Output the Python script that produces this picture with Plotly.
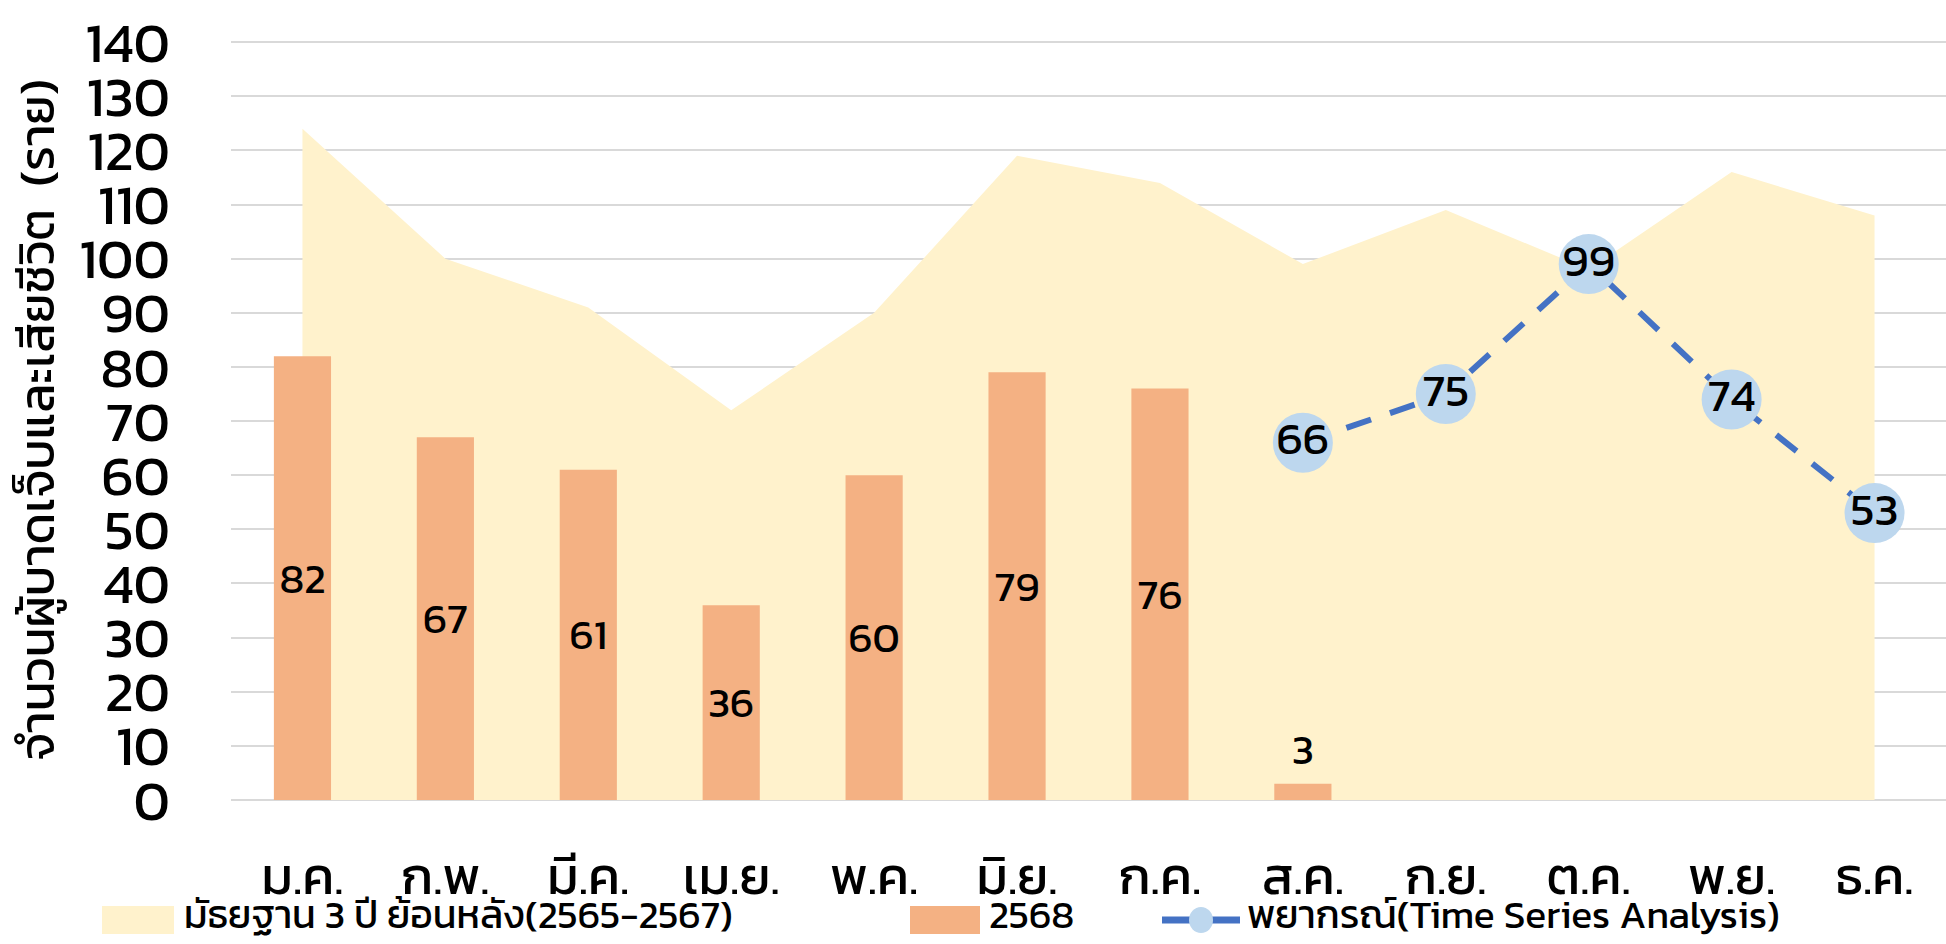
import plotly.graph_objects as go

# Months (Thai abbreviations)
months = ["ม.ค.", "ก.พ.", "มี.ค.", "เม.ย.", "พ.ค.", "มิ.ย.",
          "ก.ค.", "ส.ค.", "ก.ย.", "ต.ค.", "พ.ย.", "ธ.ค."]

# Median of the previous 3 years (2565-2567)
median_3yr = [124, 100, 91, 72, 90, 119, 114, 99, 109, 98, 116, 108]

# Year 2568 actual counts (Jan-Aug)
actual_2568 = [82, 67, 61, 36, 60, 79, 76, 3]

# Forecast (time series analysis), Aug-Dec
forecast_months = ["ส.ค.", "ก.ย.", "ต.ค.", "พ.ย.", "ธ.ค."]
forecast_vals = [66, 75, 99, 74, 53]

y_ticks = list(range(0, 141, 10))
Y_RANGE = [0, 140.4]

NAME_MEDIAN = "มัธยฐาน 3 ปี ย้อนหลัง(2565-2567)"
NAME_2568 = "2568"
NAME_FORECAST = "พยากรณ์(Time Series Analysis)"

C_AREA = "#FFF2CC"
C_BAR = "#F4B183"
C_LINE = "#4472C4"
C_MARK = "#BDD7EE"

FONT = "Kanit, Prompt, 'Noto Sans Thai', 'Noto Sans', sans-serif"

W, H = 1946, 944
ML, MR, MT, MB = 231, 0, 40, 144
PW, PH = W - ML - MR, H - MT - MB


def px_x(px):
    return (px - ML) / PW


def px_y(py):
    return (H - MB - py) / PH


fig = go.Figure()

# Background area (base subplot, drawn first)
fig.add_trace(go.Scatter(
    x=months, y=median_3yr,
    name=NAME_MEDIAN,
    mode="lines", fill="tozeroy",
    line=dict(width=0, color=C_AREA),
    fillcolor=C_AREA,
    hoverinfo="skip",
    xaxis="x", yaxis="y",
))

# Bars and forecast line live on an overlaying y-axis so they sit above the area
bar_pos = ["inside" if v >= 10 else "outside" for v in actual_2568]
fig.add_trace(go.Bar(
    x=months[:len(actual_2568)], y=actual_2568,
    name=NAME_2568,
    marker=dict(color=C_BAR, line=dict(width=0)),
    width=0.4,
    text=[str(v) for v in actual_2568],
    textposition=bar_pos,
    insidetextanchor="middle",
    textangle=0,
    textfont=dict(size=42, color="#000000", family=FONT),
    cliponaxis=False,
    xaxis="x", yaxis="y2",
))

fig.add_trace(go.Scatter(
    x=forecast_months, y=forecast_vals,
    name=NAME_FORECAST,
    mode="lines+markers+text",
    line=dict(color=C_LINE, width=6, dash="26px,20px"),
    marker=dict(size=60, color=C_MARK, line=dict(width=0)),
    text=[str(v) for v in forecast_vals],
    textposition="middle center",
    textfont=dict(size=46, color="#000000", family=FONT),
    cliponaxis=False,
    xaxis="x", yaxis="y2",
))

# Legend row below the month labels
LEG_Y = 914
LEG_FONT = dict(size=39, family=FONT, color="#000000")
shapes = [
    dict(type="rect", xref="paper", yref="paper", layer="above",
         x0=px_x(102), x1=px_x(174), y0=px_y(906), y1=px_y(934),
         fillcolor=C_AREA, line=dict(width=0)),
    dict(type="rect", xref="paper", yref="paper", layer="above",
         x0=px_x(910), x1=px_x(980), y0=px_y(906), y1=px_y(934),
         fillcolor=C_BAR, line=dict(width=0)),
    dict(type="line", xref="paper", yref="paper", layer="above",
         x0=px_x(1162), x1=px_x(1240), y0=px_y(920), y1=px_y(920),
         line=dict(color=C_LINE, width=7)),
    dict(type="circle", xref="paper", yref="paper", layer="above",
         x0=px_x(1189), x1=px_x(1213), y0=px_y(933), y1=px_y(907),
         fillcolor=C_MARK, line=dict(width=0)),
]
annotations = [
    dict(text=txt, x=px_x(x0), y=px_y(LEG_Y), xref="paper", yref="paper",
         xanchor="left", yanchor="middle", showarrow=False, font=LEG_FONT)
    for txt, x0 in [(NAME_MEDIAN, 182), (NAME_2568, 987), (NAME_FORECAST, 1245)]
]

fig.update_layout(
    width=W, height=H,
    margin=dict(l=ML, r=MR, t=MT, b=MB),
    paper_bgcolor="white", plot_bgcolor="white",
    font=dict(family=FONT, color="#000000"),
    showlegend=False,
    shapes=shapes,
    annotations=annotations,
    xaxis=dict(
        type="category",
        categoryorder="array", categoryarray=months,
        range=[-0.5, 11.5],
        tickfont=dict(size=52, family=FONT),
        showgrid=False, showline=False, zeroline=False,
        ticks="", ticklabelstandoff=41,
    ),
    yaxis=dict(
        range=Y_RANGE,
        tickvals=y_ticks,
        tickfont=dict(size=56, family=FONT),
        ticklabeloverflow="allow",
        showgrid=True, gridcolor="#D9D9D9", gridwidth=2,
        zeroline=True, zerolinecolor="#D9D9D9", zerolinewidth=2,
        showline=False, ticks="",
        ticklabelstandoff=60,
        title=dict(text="จำนวนผู้บาดเจ็บและเสียชีวิต  (ราย)",
                   font=dict(size=49, family=FONT), standoff=10),
    ),
    yaxis2=dict(
        range=Y_RANGE,
        overlaying="y",
        visible=False,
        showgrid=False, zeroline=False,
    ),
)

fig.write_html("out.html")
